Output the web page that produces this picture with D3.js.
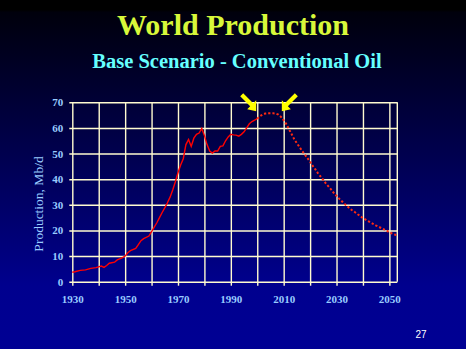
<!DOCTYPE html>
<html>
<head>
<meta charset="utf-8">
<script src="https://cdn.jsdelivr.net/npm/d3@7"></script>
<style>
  html, body { margin: 0; padding: 0; background: #000; }
  svg { display: block; }
</style>
</head>
<body>
<svg id="chart" width="466" height="349"></svg>
<script>
// Historical world production (Mb/d), drawn solid
const histYears = [1930,1931,1933,1935,1937,1939,1941,1942,1943,1944,1946,1947,1949,1950,1951,1952,1954,1955,1956,1957,1959,1960,1961,1962,1963,1964,1965,1966,1967,1968,1969,1970,1971,1972,1973,1974,1975,1976,1977,1978,1979,1980,1981,1982,1983,1984,1985,1986,1987,1988,1989,1990,1991,1992,1993,1994,1995,1996,1997,1998,1999,2000];
const histValues = [3.7,3.9,4.4,4.6,5.2,5.5,6.1,5.6,6.3,7.2,7.6,8.5,9.4,10.0,11.3,12.1,13.0,14.5,16.0,16.8,17.8,19.5,21.3,23.0,25.0,27.0,28.8,30.8,33.0,35.8,39.0,42.5,45.5,48.0,53.5,55.5,52.8,56.0,57.5,58.0,59.8,57.0,53.5,51.0,50.2,51.0,51.0,52.8,53.0,55.0,56.5,57.5,57.3,57.2,56.8,57.5,58.5,60.0,61.6,62.5,63.0,63.6];

// Base scenario forecast (Mb/d), drawn dotted
const fcYears = [2000,2001,2002,2003,2004,2005,2006,2007,2008,2009,2010,2011,2012,2013,2014,2015,2016,2017,2018,2019,2020,2021,2022,2023,2024,2025,2026,2027,2028,2029,2030,2031,2032,2033,2034,2035,2036,2037,2038,2039,2040,2041,2042,2043,2044,2045,2046,2047,2048,2049,2050,2051,2052,2053];
const fcValues = [63.6,64.6,65.2,65.6,65.7,65.7,65.7,65.6,65.2,64.3,63.0,61.5,59.5,57.6,55.6,54.0,52.5,51.0,49.6,48.2,46.8,45.2,43.8,42.3,41.0,39.7,38.3,37.1,35.9,34.6,33.5,32.4,31.4,30.4,29.5,28.6,27.8,27.1,26.3,25.6,24.8,24.2,23.6,23.0,22.5,21.9,21.4,20.9,20.4,19.9,19.3,18.8,18.4,18.0];

// Axis ticks
const xTicks = [1930,1940,1950,1960,1970,1980,1990,2000,2010,2020,2030,2040,2050];
const xTickLabels = ["1930","","1950","","1970","","1990","","2010","","2030","","2050"];
const yTicks = [0,10,20,30,40,50,60,70];

// Peak plateau markers (arrow tips)
const peakMarkerYears = [1999.6, 2009.3];
const peakMarkerLevel = 66.5;

const svg = d3.select("#chart");
const W = 466, H = 349;

// Background gradient
const defs = svg.append("defs");
const grad = defs.append("linearGradient").attr("id", "bg")
  .attr("x1", 0).attr("y1", 0).attr("x2", 0).attr("y2", 1);
[[0, "#000000"], [0.028, "#000000"], [0.035, "#00000c"], [0.45, "#000050"], [0.82, "#00008e"], [1, "#000094"]]
  .forEach(([o, c]) => grad.append("stop").attr("offset", o).attr("stop-color", c));
svg.append("rect").attr("width", W).attr("height", H).attr("fill", "url(#bg)");

// Titles
svg.append("text").attr("x", 233).attr("y", 35).attr("text-anchor", "middle")
  .attr("font-family", "'Liberation Serif', 'Times New Roman', serif")
  .attr("font-weight", "bold").attr("font-size", 30).attr("fill", "#d8f83a")
  .text("World Production");
svg.append("text").attr("x", 237).attr("y", 68).attr("text-anchor", "middle")
  .attr("font-family", "'Liberation Serif', 'Times New Roman', serif")
  .attr("font-weight", "bold").attr("font-size", 20.5).attr("fill", "#66ffff")
  .text("Base Scenario - Conventional Oil");

// Plot area
const plotLeft = 72.3, plotRight = 397.3, plotTop = 102.3, plotBottom = 281.7;
const x = d3.scaleLinear().domain([1930, 2053]).range([plotLeft, plotRight]);
const y = d3.scaleLinear().domain([0, 70]).range([plotBottom, plotTop]);

const gridColor = "#fffbd0";
const labelColor = "#99ccff";
const serif = "'Liberation Serif', 'Times New Roman', serif";

// Horizontal gridlines with short outer ticks
const yAxis = svg.append("g").attr("transform", `translate(${plotLeft},0)`)
  .call(d3.axisLeft(y).tickValues(yTicks).tickSize(3).tickPadding(5)
    .tickFormat(d3.format("d")));
yAxis.selectAll(".tick line").attr("x1", -3).attr("x2", plotRight - plotLeft)
  .attr("stroke", gridColor).attr("stroke-width", 1.4);
yAxis.select(".domain").remove();
yAxis.selectAll("text").attr("fill", labelColor).attr("font-family", serif)
  .attr("font-weight", "bold").attr("font-size", 11).attr("x", -9);

// Vertical gridlines extending below the baseline
const xAxis = svg.append("g").attr("transform", `translate(0,${plotBottom + 4})`)
  .call(d3.axisBottom(x).tickValues(xTicks).tickSize(-(plotBottom - plotTop + 4)).tickPadding(0)
    .tickFormat((d, i) => xTickLabels[i]));
xAxis.selectAll(".tick line").attr("stroke", gridColor).attr("stroke-width", 1.4);
xAxis.select(".domain").remove();
xAxis.selectAll("text").attr("fill", labelColor).attr("font-family", serif)
  .attr("font-weight", "bold").attr("font-size", 11).attr("y", 10);

// Right border of plot frame
svg.append("line").attr("x1", plotRight).attr("x2", plotRight).attr("y1", plotTop).attr("y2", plotBottom)
  .attr("stroke", gridColor).attr("stroke-width", 1.4);

// Y axis title
svg.append("text").attr("transform", `translate(43,${(plotTop + plotBottom) / 2 + 12}) rotate(-90)`)
  .attr("text-anchor", "middle").attr("font-family", serif).attr("font-size", 13.5)
  .attr("fill", labelColor).text("Production, Mb/d");

// Production lines
const line = d3.line().x(d => x(d[0])).y(d => y(d[1]));
svg.append("path").datum(histYears.map((yr, i) => [yr, histValues[i]]))
  .attr("d", line).attr("fill", "none").attr("stroke", "#ff0000").attr("stroke-width", 1.4);
svg.append("path").datum(fcYears.map((yr, i) => [yr, fcValues[i]]))
  .attr("d", line).attr("fill", "none").attr("stroke", "#ff2a10").attr("stroke-width", 2)
  .attr("stroke-dasharray", "2.2,2");

// Yellow arrows pointing at the production plateau
function arrowPath(tx, ty, dir) {
  // dir = +1 points down-right, -1 points down-left
  const pts = [[0,0],[-9,-2],[-6,-5],[-16,-15],[-13,-18],[-3,-8],[0,-11]];
  return "M" + pts.map(p => [tx + dir * p[0], ty + p[1]].join(",")).join("L") + "Z";
}
svg.selectAll(".arrow").data(peakMarkerYears).enter().append("path")
  .attr("class", "arrow")
  .attr("d", (d, i) => arrowPath(x(d), y(peakMarkerLevel), i === 0 ? 1 : -1))
  .attr("fill", "#ffff00");

// Slide number
svg.append("text").attr("x", 421).attr("y", 338).attr("text-anchor", "middle")
  .attr("font-family", "'Liberation Sans', Arial, sans-serif").attr("font-size", 10)
  .attr("fill", "#ffffff").text("27");
</script>
</body>
</html>
